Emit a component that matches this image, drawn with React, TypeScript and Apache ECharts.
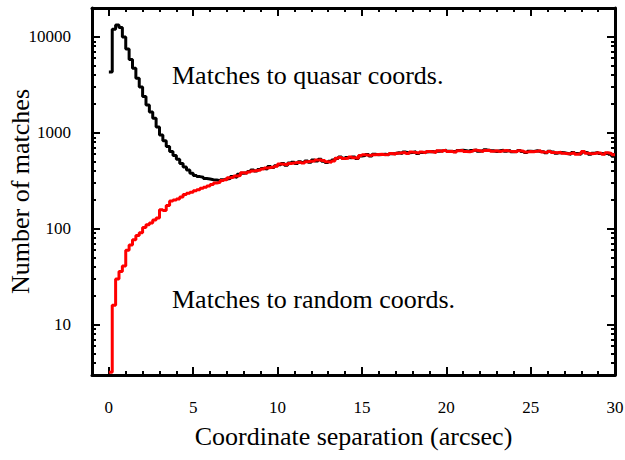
import React, { useEffect, useRef } from "react";
import * as echarts from "echarts";

// Bin width of the histogram (arcsec); bins start at 0
const binWidth = 0.2;

// Matches to quasar coordinates (black), one value per 0.2" bin from 0 to 30
const quasarCounts = [
  4300, 12000, 13300, 12500, 10000,
  7500, 5800, 4700, 3700, 3000,
  2400, 1950, 1650, 1420, 1150,
  950, 830, 720, 640, 580,
  530, 480, 440, 410, 380,
  360, 350, 345, 335, 330,
  325, 322, 318, 325, 330,
  335, 350, 345, 370, 380,
  385, 395, 410, 400, 415,
  425, 420, 445, 435, 455,
  465, 480, 460, 485, 495,
  480, 500, 490, 510, 495,
  520, 510, 530, 505, 490,
  505, 520, 540, 560, 545,
  555, 550, 560, 540, 575,
  580, 595, 575, 600, 590,
  595, 600, 590, 605, 610,
  620, 610, 630, 620, 625,
  635, 610, 625, 630, 635,
  640, 630, 645, 650, 660,
  645, 640, 635, 655, 660,
  650, 640, 655, 665, 645,
  650, 665, 655, 650, 640,
  650, 660, 645, 655, 635,
  640, 655, 640, 625, 645,
  640, 650, 640, 635, 620,
  645, 630, 615, 625, 620,
  610, 600, 625, 610, 600,
  630, 620, 600, 615, 625,
  610, 605, 615, 600, 570,
];

// Matches to random coordinates (red)
const randomCounts = [
  3.2, 16, 30, 36, 41,
  60, 68, 77, 85, 91,
  103, 110, 115, 124, 130,
  158, 155, 175, 195, 200,
  205, 215, 228, 235, 240,
  250, 255, 265, 272, 280,
  290, 300, 305, 318, 325,
  340, 345, 355, 360, 385,
  380, 390, 400, 405, 410,
  420, 430, 435, 440, 450,
  475, 470, 465, 480, 485,
  490, 495, 485, 500, 505,
  510, 520, 525, 515, 500,
  495, 510, 545, 555, 540,
  545, 560, 550, 545, 580,
  590, 585, 580, 590, 595,
  600, 590, 595, 610, 600,
  615, 620, 625, 610, 630,
  625, 615, 630, 620, 640,
  635, 625, 650, 640, 655,
  640, 645, 630, 650, 655,
  640, 635, 645, 660, 650,
  640, 655, 660, 645, 650,
  640, 650, 655, 645, 640,
  635, 650, 645, 630, 640,
  635, 645, 650, 630, 625,
  640, 625, 620, 630, 615,
  605, 610, 620, 600, 610,
  640, 615, 605, 610, 620,
  615, 600, 620, 610, 590,
];

// Axis ticks and labels
const xLabels = [0, 5, 10, 15, 20, 25, 30];
const xMinorTicks = [
  1, 2, 3, 4, 6, 7, 8, 9, 11, 12, 13, 14, 16, 17, 18, 19,
  21, 22, 23, 24, 26, 27, 28, 29,
];
const yLabels = [10, 100, 1000, 10000];
const yMinorTicks = [
  3, 4, 5, 6, 7, 8, 9,
  20, 30, 40, 50, 60, 70, 80, 90,
  200, 300, 400, 500, 600, 700, 800, 900,
  2000, 3000, 4000, 5000, 6000, 7000, 8000, 9000,
];

const X_MIN = -1;
const X_MAX = 30;
const Y_MIN = 3;
const Y_MAX = 20000;

const FONT = "Liberation Serif";

function toSteps(values: number[]) {
  const pts: [number, number][] = values.map((v, i) => [
    +(i * binWidth).toFixed(2),
    v,
  ]);
  pts.push([+(values.length * binWidth).toFixed(2), values[values.length - 1]]);
  return pts;
}

export default function App() {
  const ref = useRef<HTMLDivElement>(null);

  useEffect(() => {
    if (!ref.current) return;
    const chart = echarts.init(ref.current, null, { renderer: "svg" });

    const frameLine = { show: true, onZero: false, lineStyle: { color: "#000", width: 3 } };
    const noLine = { show: false, onZero: false };

    const xBase = (position: "bottom" | "top", major: boolean, labels: boolean) => ({
      type: "value",
      position,
      min: X_MIN,
      max: X_MAX,
      splitLine: { show: false },
      axisLine: major ? frameLine : noLine,
      axisTick: {
        show: true,
        inside: true,
        length: major ? 8 : 4,
        lineStyle: { color: "#000", width: 2 },
        customValues: major ? xLabels : xMinorTicks,
      },
      axisLabel: labels
        ? {
            show: true,
            customValues: xLabels,
            fontFamily: FONT,
            fontSize: 17,
            color: "#000",
            margin: 24,
          }
        : { show: false },
      ...(labels
        ? {
            name: "Coordinate separation (arcsec)",
            nameLocation: "middle",
            nameGap: 48,
            nameMoveOverlap: false,
            nameTextStyle: { fontFamily: FONT, fontSize: 26, color: "#000" },
          }
        : {}),
    });

    const yBase = (position: "left" | "right", major: boolean, labels: boolean) => ({
      type: "log",
      logBase: 10,
      position,
      min: Y_MIN,
      max: Y_MAX,
      splitLine: { show: false },
      axisLine: major ? frameLine : noLine,
      axisTick: {
        show: true,
        inside: true,
        length: major ? 8 : 4,
        lineStyle: { color: "#000", width: 2 },
        customValues: major ? yLabels : yMinorTicks,
      },
      axisLabel: labels
        ? {
            show: true,
            customValues: yLabels,
            fontFamily: FONT,
            fontSize: 17,
            color: "#000",
            margin: 21,
            formatter: (v: number) => String(Math.round(v)),
          }
        : { show: false },
      ...(labels
        ? {
            name: "Number of matches",
            nameLocation: "middle",
            nameGap: 59,
            nameRotate: 90,
            nameMoveOverlap: false,
            nameTextStyle: { fontFamily: FONT, fontSize: 26, color: "#000" },
          }
        : {}),
    });

    chart.setOption({
      animation: false,
      backgroundColor: "#fff",
      grid: {
        left: 92,
        right: 10,
        top: 8,
        bottom: 85,
        containLabel: false,
        outerBoundsMode: "none",
      },
      xAxis: [
        xBase("bottom", true, true),
        xBase("bottom", false, false),
        xBase("top", true, false),
        xBase("top", false, false),
      ],
      yAxis: [
        yBase("left", true, true),
        yBase("left", false, false),
        yBase("right", true, false),
        yBase("right", false, false),
      ],
      series: [
        {
          name: "quasar",
          type: "line",
          step: "end",
          xAxisIndex: 0,
          yAxisIndex: 0,
          data: toSteps(quasarCounts),
          showSymbol: false,
          symbol: "none",
          lineStyle: { color: "#000", width: 3 },
          z: 2,
        },
        {
          name: "random",
          type: "line",
          step: "end",
          xAxisIndex: 0,
          yAxisIndex: 0,
          data: toSteps(randomCounts),
          showSymbol: false,
          symbol: "none",
          lineStyle: { color: "#ff0000", width: 3 },
          z: 3,
        },
      ],
      graphic: [
        {
          type: "text",
          left: 172,
          top: 62,
          style: {
            text: "Matches to quasar coords.",
            fontFamily: FONT,
            fontSize: 26,
            fill: "#000",
          },
        },
        {
          type: "text",
          left: 172,
          top: 286,
          style: {
            text: "Matches to random coords.",
            fontFamily: FONT,
            fontSize: 26,
            fill: "#000",
          },
        },
      ],
    });

    return () => chart.dispose();
  }, []);

  return (
    <div
      ref={ref}
      style={{ position: "absolute", left: 0, top: 0, width: 625, height: 460 }}
    />
  );
}
